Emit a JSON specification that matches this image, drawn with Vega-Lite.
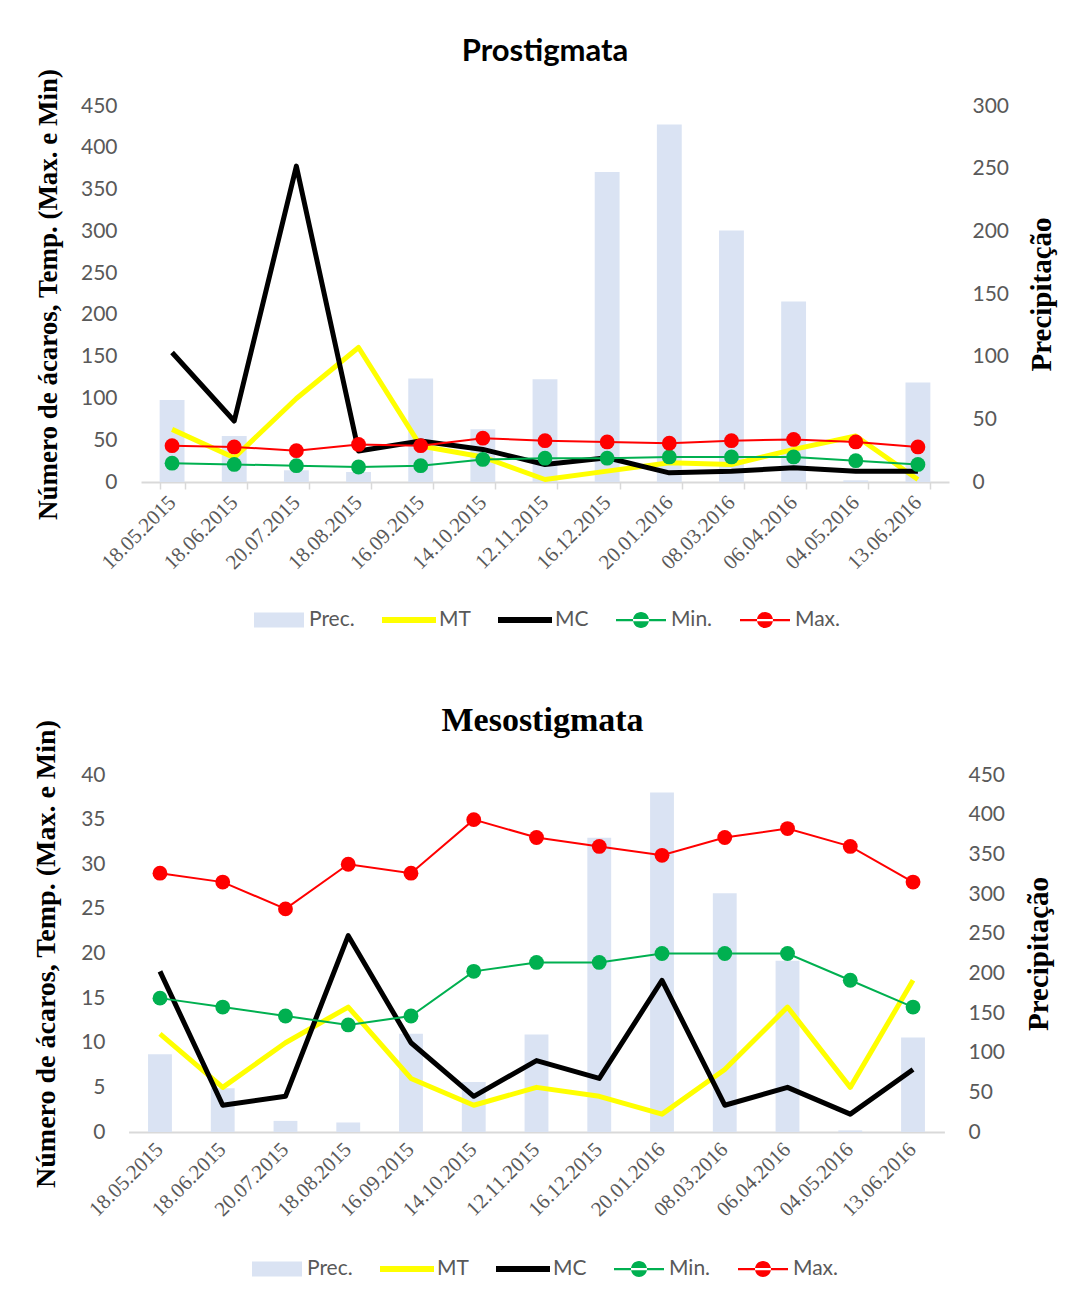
{
  "$schema": "https://vega.github.io/schema/vega-lite/v6.json",
  "background": "white",
  "padding": {"left": 32, "top": 36, "right": 5, "bottom": 2},
  "spacing": 74,
  "resolve": {"scale": {"color": "independent"}, "legend": {"color": "independent"}},
  "datasets": {
    "pro": [
      {"date": "18.05.2015", "series": "Prec.", "value": 98},
      {"date": "18.06.2015", "series": "Prec.", "value": 55},
      {"date": "20.07.2015", "series": "Prec.", "value": 14},
      {"date": "18.08.2015", "series": "Prec.", "value": 12},
      {"date": "16.09.2015", "series": "Prec.", "value": 124},
      {"date": "14.10.2015", "series": "Prec.", "value": 63},
      {"date": "12.11.2015", "series": "Prec.", "value": 123},
      {"date": "16.12.2015", "series": "Prec.", "value": 371},
      {"date": "20.01.2016", "series": "Prec.", "value": 428},
      {"date": "08.03.2016", "series": "Prec.", "value": 301},
      {"date": "06.04.2016", "series": "Prec.", "value": 216},
      {"date": "04.05.2016", "series": "Prec.", "value": 2},
      {"date": "13.06.2016", "series": "Prec.", "value": 119},
      {"date": "18.05.2015", "series": "MT", "value": 63},
      {"date": "18.06.2015", "series": "MT", "value": 29},
      {"date": "20.07.2015", "series": "MT", "value": 100},
      {"date": "18.08.2015", "series": "MT", "value": 161},
      {"date": "16.09.2015", "series": "MT", "value": 43},
      {"date": "14.10.2015", "series": "MT", "value": 30},
      {"date": "12.11.2015", "series": "MT", "value": 3},
      {"date": "16.12.2015", "series": "MT", "value": 13},
      {"date": "20.01.2016", "series": "MT", "value": 23},
      {"date": "08.03.2016", "series": "MT", "value": 21},
      {"date": "06.04.2016", "series": "MT", "value": 39},
      {"date": "04.05.2016", "series": "MT", "value": 55},
      {"date": "13.06.2016", "series": "MT", "value": 3},
      {"date": "18.05.2015", "series": "MC", "value": 155},
      {"date": "18.06.2015", "series": "MC", "value": 73},
      {"date": "20.07.2015", "series": "MC", "value": 378},
      {"date": "18.08.2015", "series": "MC", "value": 37},
      {"date": "16.09.2015", "series": "MC", "value": 49},
      {"date": "14.10.2015", "series": "MC", "value": 39},
      {"date": "12.11.2015", "series": "MC", "value": 21},
      {"date": "16.12.2015", "series": "MC", "value": 29},
      {"date": "20.01.2016", "series": "MC", "value": 11},
      {"date": "08.03.2016", "series": "MC", "value": 13},
      {"date": "06.04.2016", "series": "MC", "value": 17},
      {"date": "04.05.2016", "series": "MC", "value": 13},
      {"date": "13.06.2016", "series": "MC", "value": 13},
      {"date": "18.05.2015", "series": "Min.", "value": 15},
      {"date": "18.06.2015", "series": "Min.", "value": 14},
      {"date": "20.07.2015", "series": "Min.", "value": 13},
      {"date": "18.08.2015", "series": "Min.", "value": 12},
      {"date": "16.09.2015", "series": "Min.", "value": 13},
      {"date": "14.10.2015", "series": "Min.", "value": 18},
      {"date": "12.11.2015", "series": "Min.", "value": 19},
      {"date": "16.12.2015", "series": "Min.", "value": 19},
      {"date": "20.01.2016", "series": "Min.", "value": 20},
      {"date": "08.03.2016", "series": "Min.", "value": 20},
      {"date": "06.04.2016", "series": "Min.", "value": 20},
      {"date": "04.05.2016", "series": "Min.", "value": 17},
      {"date": "13.06.2016", "series": "Min.", "value": 14},
      {"date": "18.05.2015", "series": "Max.", "value": 29},
      {"date": "18.06.2015", "series": "Max.", "value": 28},
      {"date": "20.07.2015", "series": "Max.", "value": 25},
      {"date": "18.08.2015", "series": "Max.", "value": 30},
      {"date": "16.09.2015", "series": "Max.", "value": 29},
      {"date": "14.10.2015", "series": "Max.", "value": 35},
      {"date": "12.11.2015", "series": "Max.", "value": 33},
      {"date": "16.12.2015", "series": "Max.", "value": 32},
      {"date": "20.01.2016", "series": "Max.", "value": 31},
      {"date": "08.03.2016", "series": "Max.", "value": 33},
      {"date": "06.04.2016", "series": "Max.", "value": 34},
      {"date": "04.05.2016", "series": "Max.", "value": 32},
      {"date": "13.06.2016", "series": "Max.", "value": 28}
    ],
    "meso": [
      {"date": "18.05.2015", "series": "Prec.", "value": 98},
      {"date": "18.06.2015", "series": "Prec.", "value": 55},
      {"date": "20.07.2015", "series": "Prec.", "value": 14},
      {"date": "18.08.2015", "series": "Prec.", "value": 12},
      {"date": "16.09.2015", "series": "Prec.", "value": 124},
      {"date": "14.10.2015", "series": "Prec.", "value": 63},
      {"date": "12.11.2015", "series": "Prec.", "value": 123},
      {"date": "16.12.2015", "series": "Prec.", "value": 371},
      {"date": "20.01.2016", "series": "Prec.", "value": 428},
      {"date": "08.03.2016", "series": "Prec.", "value": 301},
      {"date": "06.04.2016", "series": "Prec.", "value": 216},
      {"date": "04.05.2016", "series": "Prec.", "value": 2},
      {"date": "13.06.2016", "series": "Prec.", "value": 119},
      {"date": "18.05.2015", "series": "MT", "value": 11},
      {"date": "18.06.2015", "series": "MT", "value": 5},
      {"date": "20.07.2015", "series": "MT", "value": 10},
      {"date": "18.08.2015", "series": "MT", "value": 14},
      {"date": "16.09.2015", "series": "MT", "value": 6},
      {"date": "14.10.2015", "series": "MT", "value": 3},
      {"date": "12.11.2015", "series": "MT", "value": 5},
      {"date": "16.12.2015", "series": "MT", "value": 4},
      {"date": "20.01.2016", "series": "MT", "value": 2},
      {"date": "08.03.2016", "series": "MT", "value": 7},
      {"date": "06.04.2016", "series": "MT", "value": 14},
      {"date": "04.05.2016", "series": "MT", "value": 5},
      {"date": "13.06.2016", "series": "MT", "value": 17},
      {"date": "18.05.2015", "series": "MC", "value": 18},
      {"date": "18.06.2015", "series": "MC", "value": 3},
      {"date": "20.07.2015", "series": "MC", "value": 4},
      {"date": "18.08.2015", "series": "MC", "value": 22},
      {"date": "16.09.2015", "series": "MC", "value": 10},
      {"date": "14.10.2015", "series": "MC", "value": 4},
      {"date": "12.11.2015", "series": "MC", "value": 8},
      {"date": "16.12.2015", "series": "MC", "value": 6},
      {"date": "20.01.2016", "series": "MC", "value": 17},
      {"date": "08.03.2016", "series": "MC", "value": 3},
      {"date": "06.04.2016", "series": "MC", "value": 5},
      {"date": "04.05.2016", "series": "MC", "value": 2},
      {"date": "13.06.2016", "series": "MC", "value": 7},
      {"date": "18.05.2015", "series": "Min.", "value": 15},
      {"date": "18.06.2015", "series": "Min.", "value": 14},
      {"date": "20.07.2015", "series": "Min.", "value": 13},
      {"date": "18.08.2015", "series": "Min.", "value": 12},
      {"date": "16.09.2015", "series": "Min.", "value": 13},
      {"date": "14.10.2015", "series": "Min.", "value": 18},
      {"date": "12.11.2015", "series": "Min.", "value": 19},
      {"date": "16.12.2015", "series": "Min.", "value": 19},
      {"date": "20.01.2016", "series": "Min.", "value": 20},
      {"date": "08.03.2016", "series": "Min.", "value": 20},
      {"date": "06.04.2016", "series": "Min.", "value": 20},
      {"date": "04.05.2016", "series": "Min.", "value": 17},
      {"date": "13.06.2016", "series": "Min.", "value": 14},
      {"date": "18.05.2015", "series": "Max.", "value": 29},
      {"date": "18.06.2015", "series": "Max.", "value": 28},
      {"date": "20.07.2015", "series": "Max.", "value": 25},
      {"date": "18.08.2015", "series": "Max.", "value": 30},
      {"date": "16.09.2015", "series": "Max.", "value": 29},
      {"date": "14.10.2015", "series": "Max.", "value": 35},
      {"date": "12.11.2015", "series": "Max.", "value": 33},
      {"date": "16.12.2015", "series": "Max.", "value": 32},
      {"date": "20.01.2016", "series": "Max.", "value": 31},
      {"date": "08.03.2016", "series": "Max.", "value": 33},
      {"date": "06.04.2016", "series": "Max.", "value": 34},
      {"date": "04.05.2016", "series": "Max.", "value": 32},
      {"date": "13.06.2016", "series": "Max.", "value": 28}
    ]
  },
  "config": {
    "view": {"stroke": null},
    "axis": {
      "labelFont": "Lato",
      "labelFontSize": 21,
      "labelColor": "#595959",
      "titleFont": "Liberation Serif",
      "titleFontSize": 25,
      "titleFontWeight": "bold",
      "titleColor": "#000000",
      "grid": false,
      "domain": false,
      "ticks": false
    }
  },
  "vconcat": [
    {
      "title": {"text": "Prostigmata", "font": "Lato", "fontSize": 31, "fontWeight": "bold", "color": "#000000", "anchor": "middle", "frame": "group", "offset": 0},
      "width": 808,
      "height": 376,
      "data": {"name": "pro"},
      "encoding": {
        "x": {
          "field": "date", "type": "nominal", "sort": null,
          "scale": {"paddingInner": 0.6, "paddingOuter": 0.3},
          "axis": {"title": null, "labelAngle": -45, "labelAlign": "right", "labelBaseline": "middle", "labelFont": "Liberation Serif", "labelFontSize": 21, "labelPadding": 10,
                   "domain": true, "domainColor": "#d9d9d9", "domainWidth": 2, "ticks": true, "tickColor": "#d9d9d9", "tickWidth": 1.5, "tickSize": 7, "tickBand": "extent"}
        }
      },
      "layer": [
        {
          "transform": [{"filter": "datum.series === 'Prec.'"}],
          "mark": {"type": "bar"},
          "encoding": {
            "y": {"field": "value", "type": "quantitative", "scale": {"domain": [0, 450]}, "axis": null},
            "color": {
              "field": "series", "type": "nominal",
              "scale": {"domain": ["Prec.", "MT", "MC", "Min.", "Max."], "range": ["#dae3f3", "#ffff00", "#000000", "#00b050", "#ff0000"]},
              "legend": {
                "title": null, "orient": "none", "legendX": 113, "legendY": 489, "direction": "horizontal",
                "symbolSize": 2500, "labelOffset": 5, "columnPadding": 27,
                "labelFont": "Lato", "labelFontSize": 21, "labelColor": "#595959",
                "encode": {"symbols": {"update": {
                  "shape": {"signal": "datum.value === 'Prec.' ? 'M-1,-0.3H1V0.3H-1Z' : (datum.value === 'MT' || datum.value === 'MC') ? 'M-1.08,-0.12H1.08V0.12H-1.08Z' : 'M-1,-0.045H1V0.045H-1Z M-0.32,0A0.32,0.32 0 1,0 0.32,0A0.32,0.32 0 1,0 -0.32,0Z'"},
                  "fill": {"signal": "datum.value === 'Prec.' ? '#dae3f3' : datum.value === 'MT' ? '#ffff00' : datum.value === 'MC' ? '#000000' : datum.value === 'Min.' ? '#00b050' : '#ff0000'"},
                  "fillOpacity": {"value": 1},
                  "opacity": {"value": 1},
                  "strokeWidth": {"value": 0}
                }}}
              }
            }
          }
        },
        {
          "transform": [{"filter": "datum.series === 'MT'"}],
          "mark": {"type": "line", "strokeWidth": 5, "strokeJoin": "round"},
          "encoding": {
            "y": {"field": "value", "type": "quantitative", "scale": {"domain": [0, 450]},
                  "axis": {"orient": "left", "title": "Número de ácaros, Temp. (Max. e Min)", "titleFontSize": 27, "values": [0, 50, 100, 150, 200, 250, 300, 350, 400, 450], "labelPadding": 24, "titlePadding": 18}},
            "color": {"field": "series", "type": "nominal"}
          }
        },
        {
          "transform": [{"filter": "datum.series === 'MC'"}],
          "mark": {"type": "line", "strokeWidth": 5, "strokeJoin": "round"},
          "encoding": {
            "y": {"field": "value", "type": "quantitative", "scale": {"domain": [0, 450]}, "axis": null},
            "color": {"field": "series", "type": "nominal"}
          }
        },
        {
          "transform": [{"filter": "datum.series === 'Min.' || datum.series === 'Max.'"}],
          "mark": {"type": "line", "strokeWidth": 2},
          "encoding": {
            "y": {"field": "value", "type": "quantitative", "scale": {"domain": [0, 300]},
                  "axis": {"orient": "right", "title": "Precipitação", "titleAngle": 270, "titleBaseline": "top", "titleFontSize": 29, "values": [0, 50, 100, 150, 200, 250, 300], "labelPadding": 23, "titlePadding": 19}},
            "color": {"field": "series", "type": "nominal"}
          }
        },
        {
          "transform": [{"filter": "datum.series === 'Min.' || datum.series === 'Max.'"}],
          "mark": {"type": "point", "filled": true, "size": 220, "opacity": 1},
          "encoding": {
            "y": {"field": "value", "type": "quantitative", "scale": {"domain": [0, 300]}, "axis": null},
            "color": {"field": "series", "type": "nominal"}
          }
        }
      ],
      "resolve": {"scale": {"y": "independent"}}
    },
    {
      "title": {"text": "Mesostigmata", "font": "Liberation Serif", "fontSize": 34, "fontWeight": "bold", "color": "#000000", "anchor": "middle", "frame": "group", "offset": -19},
      "width": 803,
      "height": 357,
      "data": {"name": "meso"},
      "encoding": {
        "x": {
          "field": "date", "type": "nominal", "sort": null,
          "scale": {"paddingInner": 0.62, "paddingOuter": 0.31, "range": [-12.4, 803.4]},
          "axis": {"title": null, "labelAngle": -45, "labelAlign": "right", "labelBaseline": "middle", "labelFont": "Liberation Serif", "labelFontSize": 21, "labelPadding": 14,
                   "domain": true, "domainColor": "#d9d9d9", "domainWidth": 2, "ticks": false}
        }
      },
      "layer": [
        {
          "transform": [{"filter": "datum.series === 'Prec.'"}],
          "mark": {"type": "bar"},
          "encoding": {
            "y": {"field": "value", "type": "quantitative", "scale": {"domain": [0, 450]},
                  "axis": {"orient": "right", "title": "Precipitação", "titleAngle": 270, "titleBaseline": "top", "titleFontSize": 29, "values": [0, 50, 100, 150, 200, 250, 300, 350, 400, 450], "labelPadding": 24, "titlePadding": 20}},
            "color": {
              "field": "series", "type": "nominal",
              "scale": {"domain": ["Prec.", "MT", "MC", "Min.", "Max."], "range": ["#dae3f3", "#ffff00", "#000000", "#00b050", "#ff0000"]},
              "legend": {
                "title": null, "orient": "none", "legendX": 111, "legendY": 469, "direction": "horizontal",
                "symbolSize": 2500, "labelOffset": 5, "columnPadding": 27,
                "labelFont": "Lato", "labelFontSize": 21, "labelColor": "#595959",
                "encode": {"symbols": {"update": {
                  "shape": {"signal": "datum.value === 'Prec.' ? 'M-1,-0.3H1V0.3H-1Z' : (datum.value === 'MT' || datum.value === 'MC') ? 'M-1.08,-0.12H1.08V0.12H-1.08Z' : 'M-1,-0.045H1V0.045H-1Z M-0.32,0A0.32,0.32 0 1,0 0.32,0A0.32,0.32 0 1,0 -0.32,0Z'"},
                  "fill": {"signal": "datum.value === 'Prec.' ? '#dae3f3' : datum.value === 'MT' ? '#ffff00' : datum.value === 'MC' ? '#000000' : datum.value === 'Min.' ? '#00b050' : '#ff0000'"},
                  "fillOpacity": {"value": 1},
                  "opacity": {"value": 1},
                  "strokeWidth": {"value": 0}
                }}}
              }
            }
          }
        },
        {
          "transform": [{"filter": "datum.series === 'MT'"}],
          "mark": {"type": "line", "strokeWidth": 5, "strokeJoin": "round"},
          "encoding": {
            "y": {"field": "value", "type": "quantitative", "scale": {"domain": [0, 40]},
                  "axis": {"orient": "left", "title": "Número de ácaros, Temp. (Max. e Min)", "titleFontSize": 28, "values": [0, 5, 10, 15, 20, 25, 30, 35, 40], "labelPadding": 36, "titlePadding": 20}},
            "color": {"field": "series", "type": "nominal"}
          }
        },
        {
          "transform": [{"filter": "datum.series === 'MC'"}],
          "mark": {"type": "line", "strokeWidth": 5, "strokeJoin": "round"},
          "encoding": {
            "y": {"field": "value", "type": "quantitative", "scale": {"domain": [0, 40]}, "axis": null},
            "color": {"field": "series", "type": "nominal"}
          }
        },
        {
          "transform": [{"filter": "datum.series === 'Min.' || datum.series === 'Max.'"}],
          "mark": {"type": "line", "strokeWidth": 2},
          "encoding": {
            "y": {"field": "value", "type": "quantitative", "scale": {"domain": [0, 40]}, "axis": null},
            "color": {"field": "series", "type": "nominal"}
          }
        },
        {
          "transform": [{"filter": "datum.series === 'Min.' || datum.series === 'Max.'"}],
          "mark": {"type": "point", "filled": true, "size": 220, "opacity": 1},
          "encoding": {
            "y": {"field": "value", "type": "quantitative", "scale": {"domain": [0, 40]}, "axis": null},
            "color": {"field": "series", "type": "nominal"}
          }
        }
      ],
      "resolve": {"scale": {"y": "independent"}}
    }
  ]
}
